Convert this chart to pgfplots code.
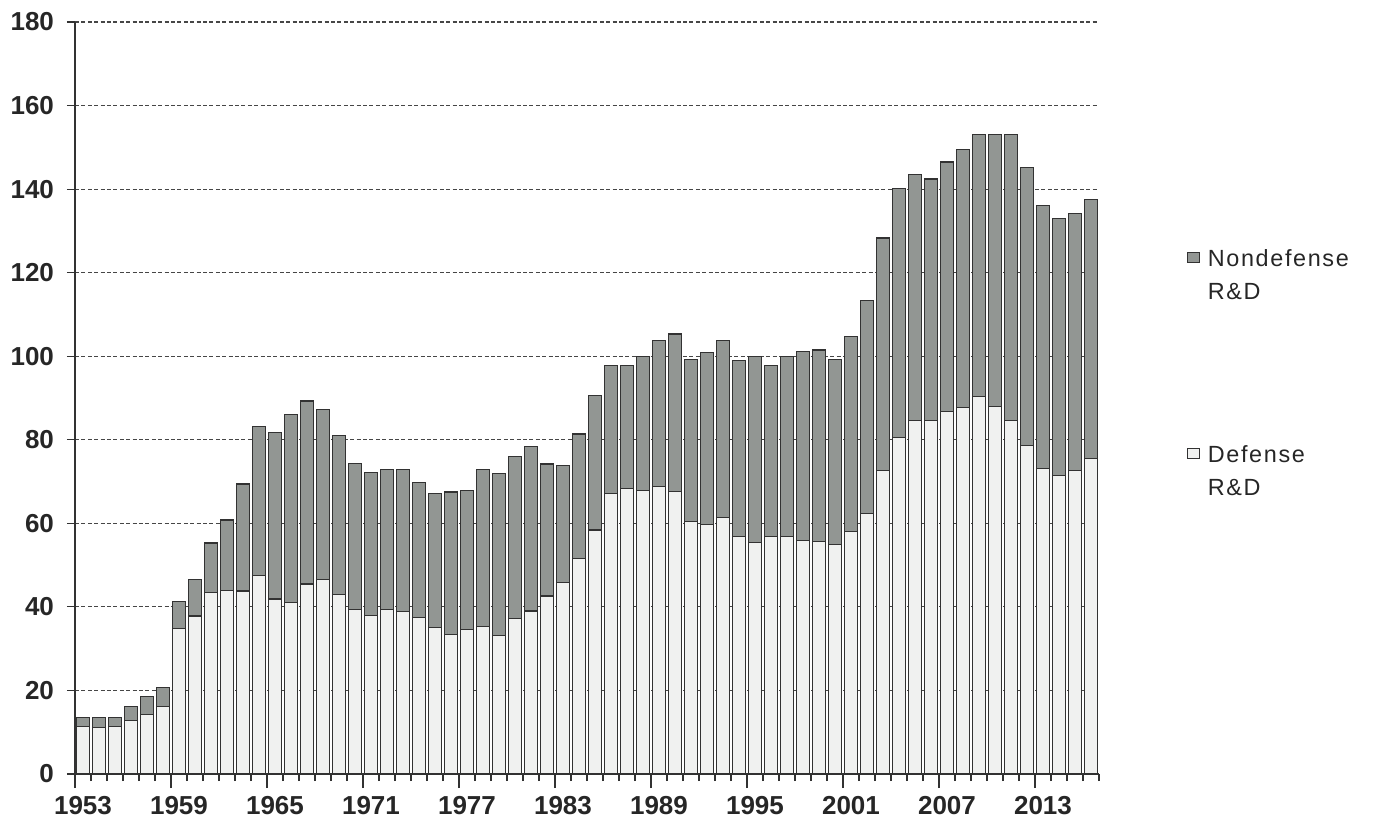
\documentclass[border=0pt]{standalone}
\usepackage{fontspec}
\setmainfont{Liberation Sans}
\newfontfamily\legfont[LetterSpace=7]{Liberation Sans}
\usepackage{pgfplots}
\pgfplotsset{compat=1.18}
\usepackage{pgfplotstable}
\definecolor{ndgray}{RGB}{146,150,147}
\definecolor{dfill}{RGB}{240,241,240}
\definecolor{edge}{RGB}{50,50,50}
\definecolor{gridc}{RGB}{70,70,70}

\pgfplotstableread{
idx def non
0 11.3 2.2
1 11.1 2.4
2 11.3 2.2
3 12.9 3.2
4 14.3 4.2
5 16.1 4.6
6 34.9 6.4
7 37.8 8.7
8 43.4 11.9
9 43.9 16.9
10 43.8 25.6
11 47.5 35.7
12 41.9 39.9
13 41.1 45.0
14 45.5 43.8
15 46.5 40.8
16 42.9 38.1
17 39.4 34.9
18 37.9 34.3
19 39.4 33.5
20 38.9 33.9
21 37.4 32.4
22 35.1 32.0
23 33.3 34.2
24 34.5 33.3
25 35.4 37.4
26 33.1 38.9
27 37.3 38.7
28 39.0 39.4
29 42.6 31.6
30 45.9 28.0
31 51.5 29.9
32 58.4 32.2
33 67.2 30.5
34 68.3 29.4
35 67.9 32.1
36 68.8 34.9
37 67.6 37.7
38 60.4 38.9
39 59.7 41.2
40 61.4 42.4
41 56.8 42.2
42 55.4 44.6
43 56.8 40.9
44 56.8 43.2
45 55.9 45.3
46 55.6 45.9
47 55.0 44.2
48 58.0 46.7
49 62.4 51.0
50 72.6 55.7
51 80.6 59.5
52 84.6 58.9
53 84.6 57.8
54 86.7 59.8
55 87.8 61.7
56 90.4 62.7
57 88.0 65.1
58 84.7 68.4
59 78.6 66.5
60 73.2 62.9
61 71.4 61.5
62 72.6 61.5
63 75.6 61.9
}\rdtable

\begin{document}
\begin{tikzpicture}
\useasboundingbox (-37.5pt,-26pt) rectangle (650pt,387pt);
\begin{axis}[
  at={(0pt,0pt)}, anchor=south west,
  scale only axis, width=512pt, height=376pt,
  ybar stacked, bar width=6.6pt,
  xmin=-0.5, xmax=63.5, ymin=0, ymax=180,
  ytick={0,20,...,180},
  xtick={-0.5,5.5,...,59.5},
  xticklabels={1953,1959,1965,1971,1977,1983,1989,1995,2001,2007,2013},
  minor xtick={-0.5,0.5,...,63.5},
  ymajorgrids,
  major grid style={gridc, line width=0.6pt, dash pattern=on 2pt off 1.2pt},
  axis x line*=bottom, axis y line*=left,
  axis line style={-, edge, line width=0.8pt},
  tick align=outside,
  major tick length=4pt, minor tick length=3.5pt,
  tick style={edge, line width=0.6pt},
  xtick style={/pgfplots/major tick length=7pt},
  tick label style={font=\fontsize{13}{15}\selectfont\bfseries, text=black!85},
  x tick label style={xshift=4pt, yshift=-3.5pt},
  y tick label style={xshift=-3pt},
  /pgf/number format/assume math mode=true,
  legend style={at={(axis description cs:1.08,0.717)}, anchor=north west,
    draw=none, fill=none, font=\legfont\fontsize{11.7}{16.5}\selectfont,
    row sep=81pt, text=black!85},
  legend cell align=left,
  reverse legend,
]
\addplot[fill=dfill, draw=edge, line width=0.6pt,
  legend image code/.code={\draw[fill=dfill,draw=edge,line width=0.5pt] (0pt,-3.3pt) rectangle (6pt,1.9pt);}]
  table[x=idx, y=def] {\rdtable};
\addlegendentry{\begin{tabular}[t]{@{\hspace{1.8pt}}l@{}}Defense\\R\&D\end{tabular}}
\addplot[fill=ndgray, draw=edge, line width=0.6pt,
  legend image code/.code={\draw[fill=ndgray,draw=edge,line width=0.5pt] (0pt,-3.3pt) rectangle (6pt,1.9pt);}]
  table[x=idx, y=non] {\rdtable};
\addlegendentry{\begin{tabular}[t]{@{\hspace{1.8pt}}l@{}}Nondefense\\R\&D\end{tabular}}
\end{axis}
\end{tikzpicture}
\end{document}
